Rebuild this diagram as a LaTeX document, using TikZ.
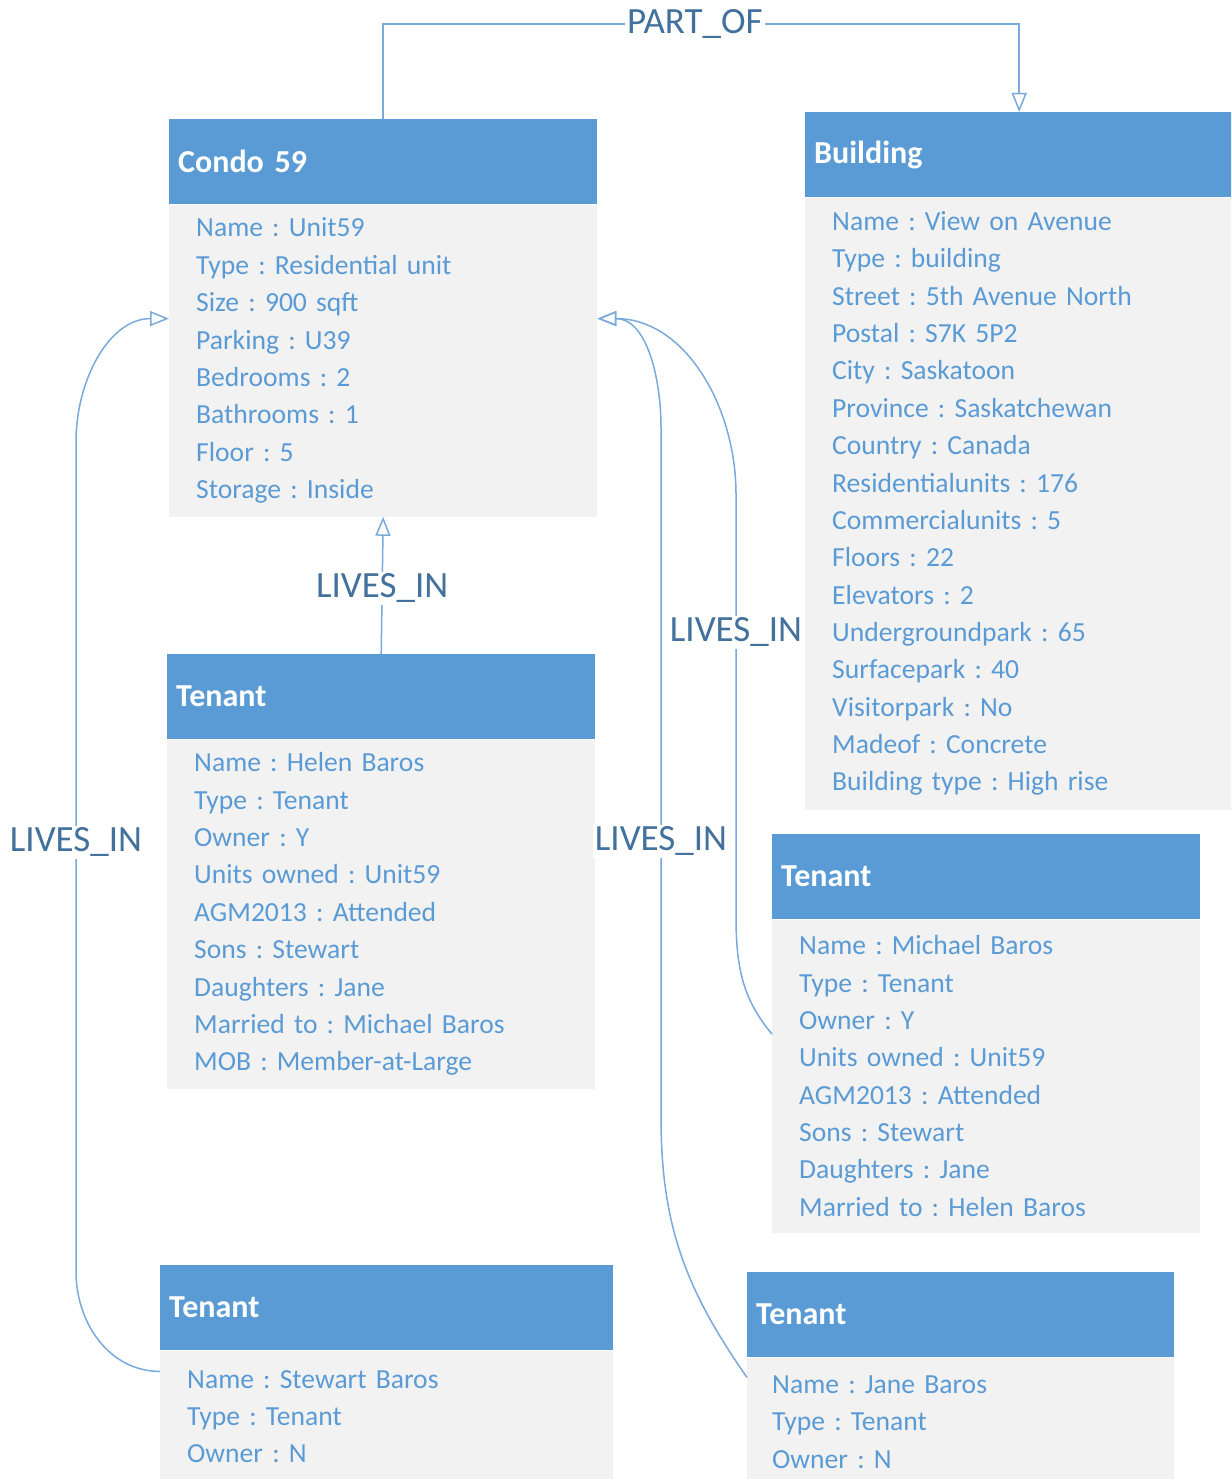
\documentclass[tikz,border=0pt]{standalone}
\usepackage{fontspec}
\setmainfont{Carlito}
\usetikzlibrary{positioning,arrows.meta}

\definecolor{hdblue}{HTML}{5B9BD5}
\definecolor{bodygray}{HTML}{F2F2F2}
\definecolor{lblblue}{HTML}{41719C}
\definecolor{lineblue}{HTML}{7AA9DC}

\begin{document}
\frenchspacing
\begin{tikzpicture}[x=1pt, y=-1pt,
  head/.style={rectangle, fill=hdblue, text=white, anchor=north west, align=left, text width=410pt, inner xsep=9pt, minimum height=85pt, font={\bfseries\fontsize{32}{32}\selectfont}},
  body/.style={rectangle, fill=bodygray, text=hdblue, align=left, text width=374pt, inner xsep=27pt, font={\fontsize{27.6}{37.35}\selectfont}},
  lbl/.style={fill=white, text=lblblue, inner sep=2pt, font={\fontsize{37}{37}\selectfont}},
  rel/.style={draw=lineblue, line width=1.5pt, -{Triangle[open, length=19pt, width=15pt]}}]
  \clip (0,0) rectangle (1231,1479);

  % condo and building
  \node[head] (condohead) at (169,119) {Condo 59};
  \node[body, below=0pt of condohead, minimum height=312pt] (condobody) {Name : Unit59\\Type : Residential unit\\Size : 900 sqft\\Parking : U39\\Bedrooms : 2\\Bathrooms : 1\\Floor : 5\\Storage : Inside};
  \node[head] (buildhead) at (805,112) {Building};
  \node[body, below=0pt of buildhead, minimum height=612pt] (buildbody) {Name : View on Avenue\\Type : building\\Street : 5th Avenue North\\Postal : S7K 5P2\\City : Saskatoon\\Province : Saskatchewan\\Country : Canada\\Residentialunits : 176\\Commercialunits : 5\\Floors : 22\\Elevators : 2\\Undergroundpark : 65\\Surfacepark : 40\\Visitorpark : No\\Madeof : Concrete\\Building type : High rise};

  % tenants
  \node[head] (helenhead) at (167,654) {Tenant};
  \node[body, below=0pt of helenhead, minimum height=349pt] (helenbody) {Name : Helen Baros\\Type : Tenant\\Owner : Y\\Units owned : Unit59\\AGM2013 : Attended\\Sons : Stewart\\Daughters : Jane\\Married to : Michael Baros\\MOB : Member-at-Large};
  \node[head] (michaelhead) at (772,834) {Tenant};
  \node[body, below=0pt of michaelhead, minimum height=313pt] (michaelbody) {Name : Michael Baros\\Type : Tenant\\Owner : Y\\Units owned : Unit59\\AGM2013 : Attended\\Sons : Stewart\\Daughters : Jane\\Married to : Helen Baros};
  \node[head, text width=435pt] (stewarthead) at (160,1265) {Tenant};
  \node[body, text width=399pt, below=0pt of stewarthead, minimum height=132pt] (stewartbody) {Name : Stewart Baros\\Type : Tenant\\Owner : N};
  \node[head, text width=409pt] (janehead) at (747,1272) {Tenant};
  \node[body, text width=377pt, inner xsep=25pt, below=0pt of janehead, minimum height=129pt] (janebody) {Name : Jane Baros\\Type : Tenant\\Owner : N};

  % relations
  \draw[rel] (condohead.north) -- ++(0,-95) -| node[lbl, pos=0.245] {PART\_OF} (buildhead.north);
  \draw[rel] (helenhead.north) -- node[lbl, pos=0.48] {LIVES\_IN} (condobody.south);
  \draw[rel] ([yshift=-21pt]stewartbody.north west) to[out=180, in=-90] ++(-84,-100) -- node[lbl, pos=0.517] {LIVES\_IN} ++(0,-830) to[out=90, in=180] ([yshift=42pt]condobody.west);
  \draw[rel] ([yshift=42pt]michaelbody.west) to[out=130, in=-90] ++(-36,-120) -- node[lbl, pos=0.671] {LIVES\_IN} ++(0,-420) to[out=90, in=0] ([yshift=42pt]condobody.east);
  \draw[rel] ([yshift=-20pt]janebody.north west) to[out=125, in=-90] ++(-86,-260) -- node[lbl, pos=0.40] {LIVES\_IN} ++(0,-690) to[out=90, in=0] ([yshift=42pt]condobody.east);
\end{tikzpicture}
\end{document}
